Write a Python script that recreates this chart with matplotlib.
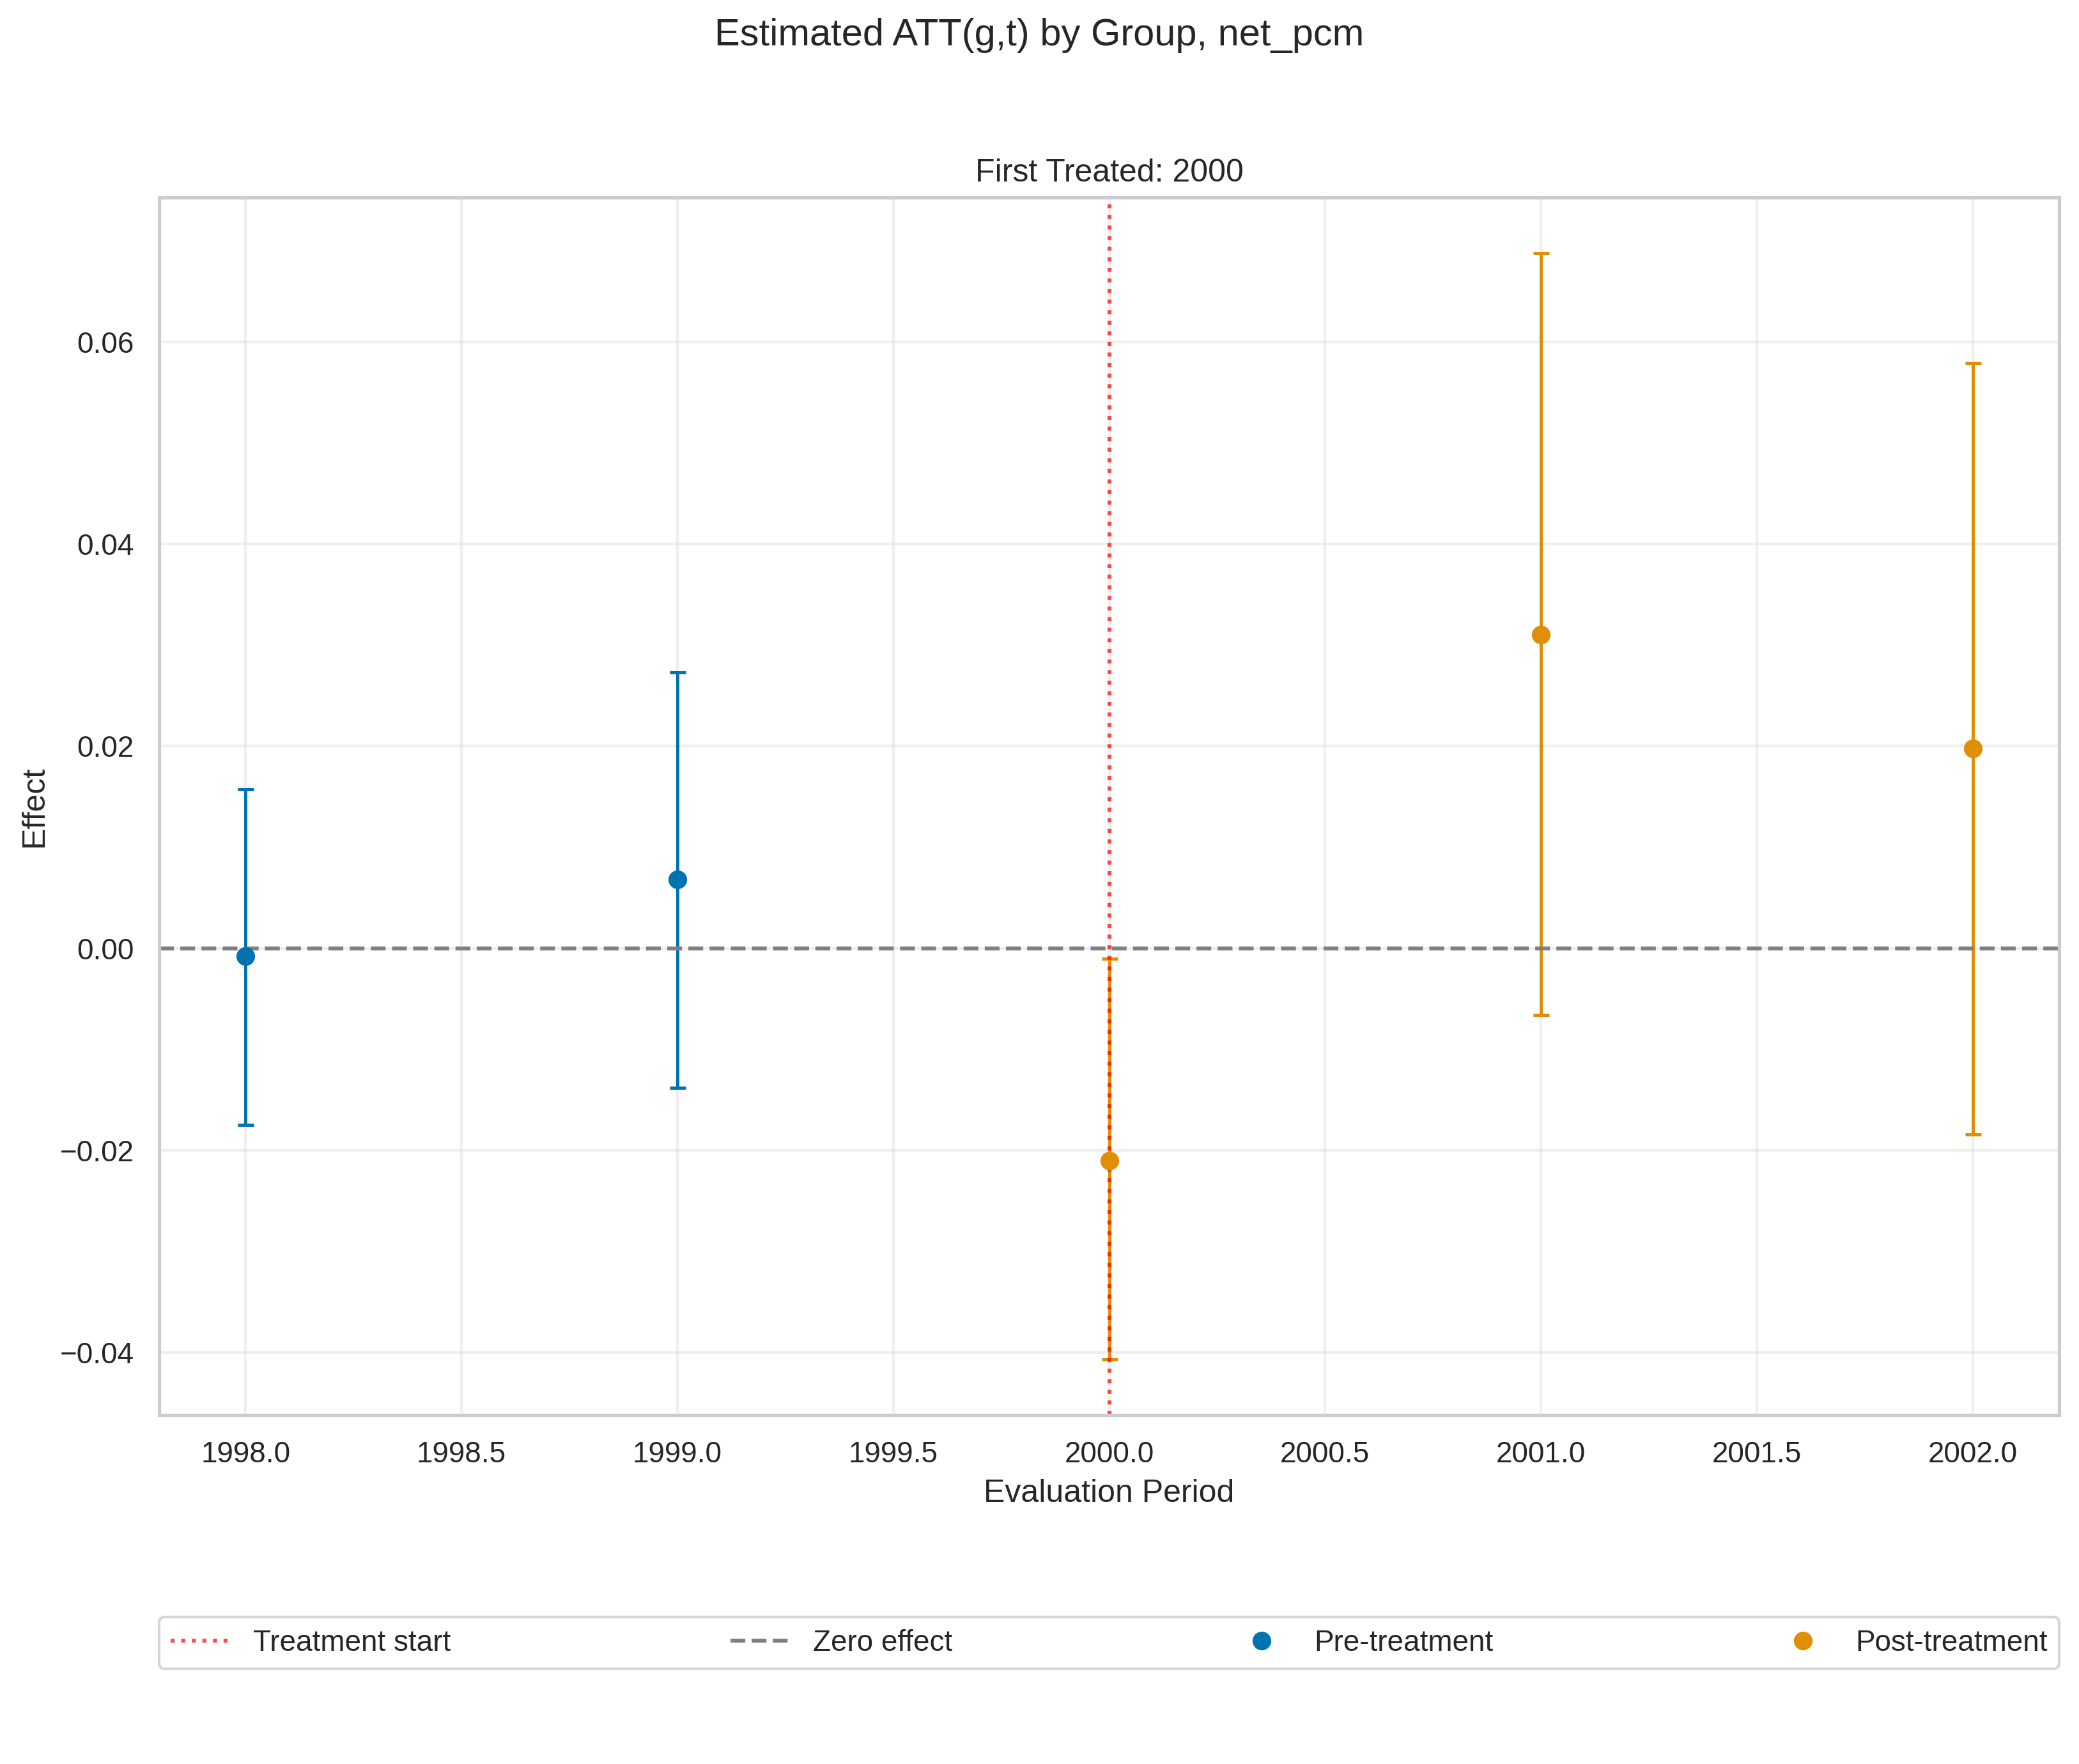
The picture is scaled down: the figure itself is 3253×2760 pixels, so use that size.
import matplotlib
matplotlib.use('Agg')
import matplotlib.pyplot as plt
from matplotlib.lines import Line2D
import seaborn as sns
import numpy as np

# values
periods = [1998, 1999, 2000, 2001, 2002]
att = [-0.0008, 0.0068, -0.0210, 0.0310, 0.0198]
ci_lower = [-0.0175, -0.0138, -0.0407, -0.0066, -0.0184]
ci_upper = [0.0157, 0.0273, -0.0010, 0.0688, 0.0579]
first_treated = 2000

sns.set_theme(style='whitegrid', palette='colorblind')
plt.rcParams['font.family'] = ['Liberation Sans', 'DejaVu Sans']

pre_color = '#0173B2'
post_color = '#DE8F05'

fig, ax = plt.subplots(figsize=(3253 / 300, 2760 / 300), dpi=300)
fig.subplots_adjust(left=249 / 3253, right=3222 / 3253, bottom=1 - 2214 / 2760, top=1 - 309 / 2760)

for p, y, lo, hi in zip(periods, att, ci_lower, ci_upper):
    color = pre_color if p < first_treated else post_color
    ax.errorbar([p], [y], yerr=[[y - lo], [hi - y]], fmt='o', color=color,
                markersize=6, elinewidth=1.2, capsize=3, capthick=1.2)

ax.axvline(first_treated, color='red', linestyle=':', linewidth=1.5, alpha=0.7)
ax.axhline(0, color='gray', linestyle='--', linewidth=1.5, alpha=1.0)

ax.grid(True, alpha=0.3)
for spine in ax.spines.values():
    spine.set_color('#cccccc')

ax.set_title('First Treated: %d' % first_treated, fontsize=12)
ax.set_xlabel('Evaluation Period', fontsize=12)
ax.set_ylabel('Effect', fontsize=12)
ax.tick_params(labelsize=11)

fig.suptitle('Estimated ATT(g,t) by Group, net_pcm', fontsize=14.3, y=0.98, va='center')

handles = [
    Line2D([0], [0], color='red', linestyle=':', linewidth=1.5, alpha=0.7, label='Treatment start'),
    Line2D([0], [0], color='gray', linestyle='--', linewidth=1.5, label='Zero effect'),
    Line2D([0], [0], marker='o', linestyle='none', color=pre_color, markersize=6, label='Pre-treatment'),
    Line2D([0], [0], marker='o', linestyle='none', color=post_color, markersize=6, label='Post-treatment'),
]
ax.legend(handles=handles, loc='upper left', bbox_to_anchor=(0, -0.166, 1, 0),
          mode='expand', ncol=4, fontsize=11, frameon=True, borderaxespad=0)

plt.savefig('out.png', dpi=300)
